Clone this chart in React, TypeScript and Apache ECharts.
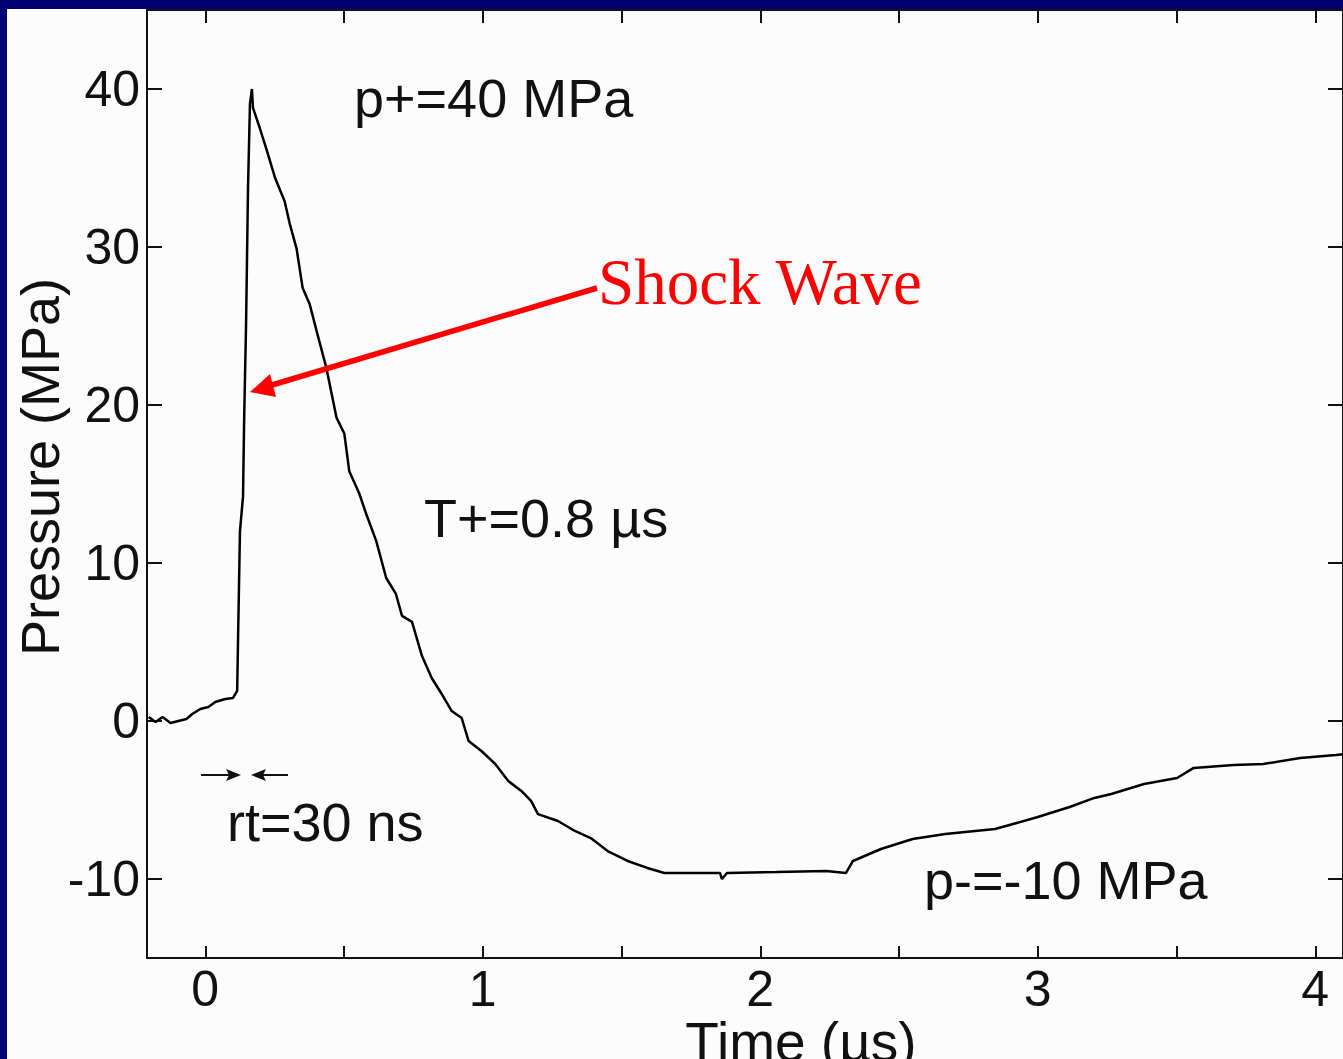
import React, { useEffect, useRef } from "react";
import * as echarts from "echarts";

// Time (µs) and pressure (MPa)
const timeUs = [
  -0.204, -0.179, -0.154, -0.125, -0.097, -0.068, -0.047, -0.018, 0.011, 0.036,
  0.072, 0.1, 0.115, 0.118, 0.125, 0.136, 0.14, 0.147, 0.154, 0.161,
  0.168, 0.172, 0.197, 0.222, 0.251, 0.286, 0.304, 0.329, 0.351, 0.376,
  0.401, 0.437, 0.473, 0.501, 0.519, 0.555, 0.58, 0.616, 0.652, 0.687,
  0.709, 0.745, 0.781, 0.816, 0.852, 0.888, 0.924, 0.949, 0.995, 1.045,
  1.092, 1.139, 1.174, 1.199, 1.271, 1.332, 1.389, 1.45, 1.522, 1.593,
  1.654, 1.772, 1.855, 1.862, 1.88, 2.059, 2.238, 2.309, 2.334, 2.435,
  2.549, 2.667, 2.846, 3.0, 3.115, 3.204, 3.265, 3.383, 3.502, 3.562,
  3.706, 3.813, 3.946, 4.074, 4.1,
];
const pressureMPa = [
  0.25, -0.06, 0.25, -0.13, 0.0, 0.13, 0.44, 0.76, 0.89, 1.2,
  1.39, 1.46, 1.9, 5.06, 12.0, 14.2, 19.0, 25.1, 33.7, 39.05,
  40.0, 38.8, 37.5, 36.1, 34.4, 32.9, 31.5, 29.9, 27.4, 26.4,
  24.7, 22.3, 19.2, 18.2, 15.8, 14.4, 13.1, 11.4, 9.05, 8.04,
  6.65, 6.27, 4.11, 2.72, 1.71, 0.63, 0.19, -1.27, -1.9, -2.72,
  -3.8, -4.43, -5.06, -5.89, -6.33, -6.96, -7.41, -8.23, -8.86, -9.3,
  -9.62, -9.62, -9.62, -10.0, -9.62, -9.56, -9.49, -9.62, -8.86, -8.1,
  -7.47, -7.15, -6.84, -6.08, -5.44, -4.87, -4.62, -3.99, -3.61, -2.97,
  -2.78, -2.72, -2.34, -2.15, -2.1,
];

const xTicks = [0, 0.5, 1, 1.5, 2, 2.5, 3, 3.5, 4];
const xLabels = [0, 1, 2, 3, 4];
const yTicks = [-10, 0, 10, 20, 30, 40];

const FONT = "Liberation Sans, Arial, Helvetica, sans-serif";
const INK = "#111111";

export default function App() {
  const ref = useRef<HTMLDivElement>(null);

  useEffect(() => {
    if (!ref.current) return;
    const chart = echarts.init(ref.current, null, { renderer: "svg" });
    const data = timeUs.map((t, i) => [t, pressureMPa[i]]);

    const axisLine = { show: true, onZero: false, lineStyle: { color: INK, width: 2 } };

    const annot = (text: string, x: number, y: number, extra: any = {}) => ({
      type: "text",
      x,
      y,
      z: 10,
      style: {
        text,
        fill: INK,
        font: `54px ${FONT}`,
        textVerticalAlign: "middle",
        ...extra,
      },
    });

    chart.setOption({
      animation: false,
      backgroundColor: "#000070",
      grid: { left: 147, top: 10, right: -8, bottom: 101, containLabel: false },
      xAxis: [
        {
          type: "value",
          position: "bottom",
          min: -0.21,
          max: 4.1,
          axisLine,
          splitLine: { show: false },
          axisTick: {
            show: true,
            inside: true,
            length: 12,
            customValues: xTicks,
            lineStyle: { color: INK, width: 2 },
          },
          axisLabel: {
            show: true,
            customValues: xLabels,
            color: INK,
            fontFamily: FONT,
            fontSize: 50,
            margin: 6,
          },
        },
        {
          type: "value",
          position: "top",
          min: -0.21,
          max: 4.1,
          axisLine,
          splitLine: { show: false },
          axisTick: {
            show: true,
            inside: true,
            length: 13,
            customValues: xTicks,
            lineStyle: { color: INK, width: 2 },
          },
          axisLabel: { show: false },
        },
      ],
      yAxis: [
        {
          type: "value",
          position: "left",
          min: -15,
          max: 45,
          axisLine,
          splitLine: { show: false },
          axisTick: {
            show: true,
            inside: true,
            length: 15,
            customValues: yTicks,
            lineStyle: { color: INK, width: 2 },
          },
          axisLabel: {
            show: true,
            customValues: yTicks,
            color: INK,
            fontFamily: FONT,
            fontSize: 50,
            margin: 7,
          },
        },
        {
          type: "value",
          position: "right",
          min: -15,
          max: 45,
          axisLine,
          splitLine: { show: false },
          axisTick: {
            show: true,
            inside: true,
            length: 15,
            customValues: yTicks,
            lineStyle: { color: INK, width: 2 },
          },
          axisLabel: { show: false },
        },
      ],
      series: [
        {
          type: "line",
          xAxisIndex: 0,
          yAxisIndex: 0,
          data,
          showSymbol: false,
          clip: true,
          lineStyle: { color: "#000", width: 2.5 },
          z: 5,
        },
      ],
      graphic: [
        {
          type: "rect",
          z: -10,
          silent: true,
          shape: { x: 7, y: 9, width: 1400, height: 1100 },
          style: { fill: "#fdfcfd" },
        },
        {
          type: "text",
          x: 801,
          y: 1042,
          z: 10,
          style: {
            text: "Time (µs)",
            fill: INK,
            font: `55px ${FONT}`,
            textAlign: "center",
            textVerticalAlign: "middle",
          },
        },
        {
          type: "text",
          x: 40,
          y: 467,
          rotation: Math.PI / 2,
          z: 10,
          style: {
            text: "Pressure (MPa)",
            fill: INK,
            font: `54px ${FONT}`,
            textAlign: "center",
            textVerticalAlign: "middle",
          },
        },
        annot("p+=40 MPa", 354, 98),
        annot("T+=0.8 µs", 424, 518),
        annot("rt=30 ns", 227, 822),
        annot("p-=-10 MPa", 924, 880),
        {
          type: "text",
          x: 598,
          y: 282,
          z: 10,
          style: {
            text: "Shock Wave",
            fill: "#ff0000",
            font: `65px Liberation Serif, Times New Roman, serif`,
            textVerticalAlign: "middle",
          },
        },
        {
          type: "line",
          z: 11,
          shape: { x1: 597, y1: 288, x2: 272, y2: 385 },
          style: { stroke: "#ff0000", lineWidth: 5.5 },
        },
        {
          type: "polygon",
          z: 11,
          shape: { points: [[250, 392], [270, 374], [276, 397]] },
          style: { fill: "#ff0000" },
        },
        {
          type: "line",
          z: 11,
          shape: { x1: 201, y1: 775, x2: 232, y2: 775 },
          style: { stroke: INK, lineWidth: 2 },
        },
        {
          type: "polygon",
          z: 11,
          shape: { points: [[241, 775], [226, 769], [229, 775], [226, 781]] },
          style: { fill: INK },
        },
        {
          type: "line",
          z: 11,
          shape: { x1: 260, y1: 775, x2: 288, y2: 775 },
          style: { stroke: INK, lineWidth: 2 },
        },
        {
          type: "polygon",
          z: 11,
          shape: { points: [[251, 775], [266, 769], [263, 775], [266, 781]] },
          style: { fill: INK },
        },
      ],
    });

    return () => chart.dispose();
  }, []);

  return (
    <div
      ref={ref}
      style={{ position: "fixed", left: 0, top: 0, width: 1343, height: 1059 }}
    />
  );
}
